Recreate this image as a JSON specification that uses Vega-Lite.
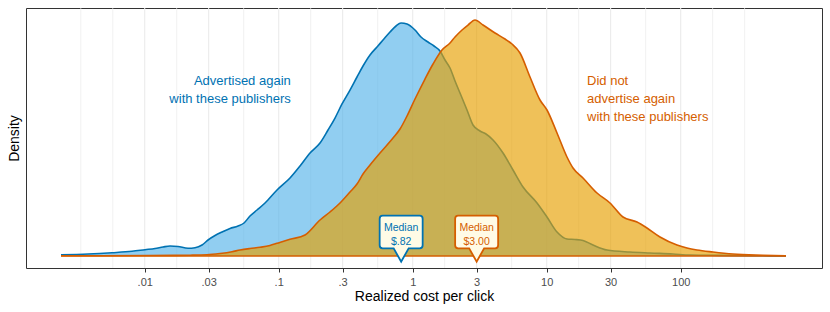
{
  "$schema": "https://vega.github.io/schema/vega-lite/v6.json",
  "width": 796,
  "height": 260,
  "autosize": {"type": "none"},
  "padding": {"left": 26, "top": 8, "right": 8, "bottom": 44},
  "background": "white",
  "config": {
    "font": "Liberation Sans",
    "view": {"stroke": "#333333", "strokeWidth": 1},
    "axisX": {"grid": false, "domain": false, "tickColor": "#333333", "tickSize": 4, "tickWidth": 1, "labelColor": "#4d4d4d", "labelFontSize": 11, "labelPadding": 4, "titleFontSize": 14, "titleFontWeight": "normal", "titleColor": "#000000", "titlePadding": 2, "labelFlush": false, "labelOverlap": false},
    "axisY": {"grid": false, "domain": false, "ticks": false, "labels": false, "titleFontSize": 14, "titleFontWeight": "normal", "titleColor": "#000000", "titlePadding": 5}
  },
  "datasets": {
    "grid": [
      {"cpc": 0.003334, "kind": "minor"}, {"cpc": 0.005774, "kind": "minor"}, {"cpc": 0.01, "kind": "major"}, {"cpc": 0.01732, "kind": "minor"},
      {"cpc": 0.03, "kind": "major"}, {"cpc": 0.05477, "kind": "minor"}, {"cpc": 0.1, "kind": "major"}, {"cpc": 0.1732, "kind": "minor"},
      {"cpc": 0.3, "kind": "major"}, {"cpc": 0.5477, "kind": "minor"}, {"cpc": 1, "kind": "major"}, {"cpc": 1.732, "kind": "minor"},
      {"cpc": 3, "kind": "major"}, {"cpc": 5.477, "kind": "minor"}, {"cpc": 10, "kind": "major"}, {"cpc": 17.32, "kind": "minor"},
      {"cpc": 30, "kind": "major"}, {"cpc": 54.77, "kind": "minor"}, {"cpc": 100, "kind": "major"}, {"cpc": 173.2, "kind": "minor"},
      {"cpc": 300, "kind": "minor"}
    ],
    "curves": [
      {"group": "again", "cpc": 0.002373, "density": 0.004},
      {"group": "again", "cpc": 0.003774, "density": 0.0067},
      {"group": "again", "cpc": 0.005702, "density": 0.011},
      {"group": "again", "cpc": 0.008036, "density": 0.0157},
      {"group": "again", "cpc": 0.01005, "density": 0.021},
      {"group": "again", "cpc": 0.01194, "density": 0.025},
      {"group": "again", "cpc": 0.0137, "density": 0.03},
      {"group": "again", "cpc": 0.01545, "density": 0.0333},
      {"group": "again", "cpc": 0.01772, "density": 0.0317},
      {"group": "again", "cpc": 0.02104, "density": 0.026},
      {"group": "again", "cpc": 0.02373, "density": 0.0277},
      {"group": "again", "cpc": 0.02677, "density": 0.0367},
      {"group": "again", "cpc": 0.02968, "density": 0.0533},
      {"group": "again", "cpc": 0.03347, "density": 0.0683},
      {"group": "again", "cpc": 0.03774, "density": 0.08},
      {"group": "again", "cpc": 0.04331, "density": 0.0917},
      {"group": "again", "cpc": 0.0497, "density": 0.1},
      {"group": "again", "cpc": 0.05508, "density": 0.11},
      {"group": "again", "cpc": 0.06106, "density": 0.1333},
      {"group": "again", "cpc": 0.06887, "density": 0.1533},
      {"group": "again", "cpc": 0.07902, "density": 0.1767},
      {"group": "again", "cpc": 0.09712, "density": 0.22},
      {"group": "again", "cpc": 0.1214, "density": 0.26},
      {"group": "again", "cpc": 0.1442, "density": 0.3},
      {"group": "again", "cpc": 0.1713, "density": 0.3433},
      {"group": "again", "cpc": 0.2033, "density": 0.3767},
      {"group": "again", "cpc": 0.2333, "density": 0.42},
      {"group": "again", "cpc": 0.2631, "density": 0.46},
      {"group": "again", "cpc": 0.2968, "density": 0.5067},
      {"group": "again", "cpc": 0.3404, "density": 0.5533},
      {"group": "again", "cpc": 0.3839, "density": 0.5967},
      {"group": "again", "cpc": 0.4257, "density": 0.6333},
      {"group": "again", "cpc": 0.4801, "density": 0.67},
      {"group": "again", "cpc": 0.5415, "density": 0.6967},
      {"group": "again", "cpc": 0.6005, "density": 0.72},
      {"group": "again", "cpc": 0.677, "density": 0.7467},
      {"group": "again", "cpc": 0.7507, "density": 0.7667},
      {"group": "again", "cpc": 0.8179, "density": 0.7767},
      {"group": "again", "cpc": 0.9067, "density": 0.7733},
      {"group": "again", "cpc": 1.04, "density": 0.7533},
      {"group": "again", "cpc": 1.153, "density": 0.73},
      {"group": "again", "cpc": 1.3, "density": 0.7133},
      {"group": "again", "cpc": 1.442, "density": 0.7},
      {"group": "again", "cpc": 1.598, "density": 0.6833},
      {"group": "again", "cpc": 1.742, "density": 0.6533},
      {"group": "again", "cpc": 1.898, "density": 0.6267},
      {"group": "again", "cpc": 2.069, "density": 0.5833},
      {"group": "again", "cpc": 2.254, "density": 0.5433},
      {"group": "again", "cpc": 2.542, "density": 0.4867},
      {"group": "again", "cpc": 2.818, "density": 0.4367},
      {"group": "again", "cpc": 3.178, "density": 0.4167},
      {"group": "again", "cpc": 3.524, "density": 0.4067},
      {"group": "again", "cpc": 3.975, "density": 0.3867},
      {"group": "again", "cpc": 4.72, "density": 0.3433},
      {"group": "again", "cpc": 5.604, "density": 0.2867},
      {"group": "again", "cpc": 6.656, "density": 0.23},
      {"group": "again", "cpc": 8.465, "density": 0.1767},
      {"group": "again", "cpc": 10.05, "density": 0.13},
      {"group": "again", "cpc": 11.94, "density": 0.08},
      {"group": "again", "cpc": 14.17, "density": 0.0567},
      {"group": "again", "cpc": 16.26, "density": 0.055},
      {"group": "again", "cpc": 18.66, "density": 0.0517},
      {"group": "again", "cpc": 22.16, "density": 0.0367},
      {"group": "again", "cpc": 28.18, "density": 0.02},
      {"group": "again", "cpc": 41.83, "density": 0.0133},
      {"group": "again", "cpc": 59.01, "density": 0.01},
      {"group": "again", "cpc": 87.6, "density": 0.0067},
      {"group": "again", "cpc": 117.3, "density": 0.0033},
      {"group": "again", "cpc": 196.6, "density": 0.002},
      {"group": "again", "cpc": 329.1, "density": 0.001},
      {"group": "again", "cpc": 610.8, "density": 0.0003},
      {"group": "not", "cpc": 0.002373, "density": 0.001},
      {"group": "not", "cpc": 0.004638, "density": 0.001},
      {"group": "not", "cpc": 0.01095, "density": 0.0017},
      {"group": "not", "cpc": 0.02178, "density": 0.0027},
      {"group": "not", "cpc": 0.02917, "density": 0.004},
      {"group": "not", "cpc": 0.03647, "density": 0.0083},
      {"group": "not", "cpc": 0.04482, "density": 0.0143},
      {"group": "not", "cpc": 0.05143, "density": 0.02},
      {"group": "not", "cpc": 0.06106, "density": 0.025},
      {"group": "not", "cpc": 0.07253, "density": 0.029},
      {"group": "not", "cpc": 0.0861, "density": 0.035},
      {"group": "not", "cpc": 0.09712, "density": 0.0423},
      {"group": "not", "cpc": 0.1214, "density": 0.0557},
      {"group": "not", "cpc": 0.1571, "density": 0.07},
      {"group": "not", "cpc": 0.2033, "density": 0.12},
      {"group": "not", "cpc": 0.2415, "density": 0.1467},
      {"group": "not", "cpc": 0.2868, "density": 0.1767},
      {"group": "not", "cpc": 0.3404, "density": 0.2133},
      {"group": "not", "cpc": 0.3839, "density": 0.24},
      {"group": "not", "cpc": 0.4257, "density": 0.2733},
      {"group": "not", "cpc": 0.4801, "density": 0.3033},
      {"group": "not", "cpc": 0.5702, "density": 0.3433},
      {"group": "not", "cpc": 0.7129, "density": 0.3933},
      {"group": "not", "cpc": 0.8042, "density": 0.4233},
      {"group": "not", "cpc": 0.9067, "density": 0.4667},
      {"group": "not", "cpc": 1.04, "density": 0.5233},
      {"group": "not", "cpc": 1.235, "density": 0.59},
      {"group": "not", "cpc": 1.418, "density": 0.64},
      {"group": "not", "cpc": 1.654, "density": 0.6867},
      {"group": "not", "cpc": 1.898, "density": 0.71},
      {"group": "not", "cpc": 2.069, "density": 0.73},
      {"group": "not", "cpc": 2.334, "density": 0.7533},
      {"group": "not", "cpc": 2.586, "density": 0.77},
      {"group": "not", "cpc": 2.917, "density": 0.7867},
      {"group": "not", "cpc": 3.347, "density": 0.77},
      {"group": "not", "cpc": 4.114, "density": 0.7433},
      {"group": "not", "cpc": 4.885, "density": 0.7233},
      {"group": "not", "cpc": 5.508, "density": 0.7067},
      {"group": "not", "cpc": 6.32, "density": 0.6767},
      {"group": "not", "cpc": 7.506, "density": 0.5967},
      {"group": "not", "cpc": 8.913, "density": 0.52},
      {"group": "not", "cpc": 10.05, "density": 0.4867},
      {"group": "not", "cpc": 11.94, "density": 0.41},
      {"group": "not", "cpc": 14.17, "density": 0.33},
      {"group": "not", "cpc": 15.72, "density": 0.2933},
      {"group": "not", "cpc": 18.66, "density": 0.26},
      {"group": "not", "cpc": 23.74, "density": 0.21},
      {"group": "not", "cpc": 29.68, "density": 0.1767},
      {"group": "not", "cpc": 37.11, "density": 0.13},
      {"group": "not", "cpc": 47.2, "density": 0.1133},
      {"group": "not", "cpc": 56.04, "density": 0.0933},
      {"group": "not", "cpc": 70.07, "density": 0.0633},
      {"group": "not", "cpc": 93.85, "density": 0.0367},
      {"group": "not", "cpc": 111.4, "density": 0.0267},
      {"group": "not", "cpc": 132.3, "density": 0.02},
      {"group": "not", "cpc": 174.2, "density": 0.0133},
      {"group": "not", "cpc": 245.7, "density": 0.0067},
      {"group": "not", "cpc": 411.4, "density": 0.0027},
      {"group": "not", "cpc": 610.8, "density": 0.0007}
    ],
    "medians": [
      {"group": "again", "cpc": 0.82, "label": "Median\n$.82"},
      {"group": "not", "cpc": 3.0, "label": "Median\n$3.00"}
    ],
    "notes": [
      {"group": "again", "cpc": 0.123, "density": 0.57, "label": "Advertised again\nwith these publishers"},
      {"group": "not", "cpc": 20, "density": 0.57, "label": "Did not\nadvertise again\nwith these publishers"}
    ]
  },
  "layer": [
    {
      "data": {"name": "grid"},
      "mark": {"type": "rule", "color": "#ebebeb"},
      "encoding": {
        "x": {"field": "cpc", "type": "quantitative", "title": "Realized cost per click",
              "scale": {"type": "log", "domain": [0.0013, 1134], "nice": false},
              "axis": {"values": [0.01, 0.03, 0.1, 0.3, 1, 3, 10, 30, 100], "format": "~g", "labelExpr": "datum.value < 1 ? substring(datum.label, 1) : datum.label"}},
        "strokeWidth": {"field": "kind", "type": "nominal", "scale": {"domain": ["major", "minor"], "range": [1.1, 0.7]}, "legend": null}
      }
    },
    {
      "data": {"name": "curves"},
      "transform": [{"filter": "datum.group === 'again'"}],
      "mark": {"type": "area", "color": "#56B4E9", "opacity": 0.65, "interpolate": "monotone"},
      "encoding": {
        "x": {"field": "cpc", "type": "quantitative", "title": "Realized cost per click", "scale": {"type": "log", "domain": [0.0013, 1134], "nice": false}},
        "y": {"field": "density", "type": "quantitative", "title": "Density", "scale": {"domain": [-0.04, 0.8267], "nice": false, "zero": false}}
      }
    },
    {
      "data": {"name": "curves"},
      "transform": [{"filter": "datum.group === 'again'"}],
      "mark": {"type": "line", "color": "#0072B2", "strokeWidth": 1.6, "interpolate": "monotone"},
      "encoding": {
        "x": {"field": "cpc", "type": "quantitative", "title": "Realized cost per click", "scale": {"type": "log", "domain": [0.0013, 1134], "nice": false}},
        "y": {"field": "density", "type": "quantitative", "title": "Density", "scale": {"domain": [-0.04, 0.8267], "nice": false, "zero": false}}
      }
    },
    {
      "data": {"name": "curves"},
      "transform": [{"filter": "datum.group === 'not'"}],
      "mark": {"type": "area", "color": "#E69F00", "opacity": 0.65, "interpolate": "monotone"},
      "encoding": {
        "x": {"field": "cpc", "type": "quantitative", "title": "Realized cost per click", "scale": {"type": "log", "domain": [0.0013, 1134], "nice": false}},
        "y": {"field": "density", "type": "quantitative", "title": "Density", "scale": {"domain": [-0.04, 0.8267], "nice": false, "zero": false}}
      }
    },
    {
      "data": {"name": "curves"},
      "transform": [{"filter": "datum.group === 'not'"}],
      "mark": {"type": "line", "color": "#D55E00", "strokeWidth": 1.6, "interpolate": "monotone"},
      "encoding": {
        "x": {"field": "cpc", "type": "quantitative", "title": "Realized cost per click", "scale": {"type": "log", "domain": [0.0013, 1134], "nice": false}},
        "y": {"field": "density", "type": "quantitative", "title": "Density", "scale": {"domain": [-0.04, 0.8267], "nice": false, "zero": false}}
      }
    },
    {
      "data": {"name": "curves"},
      "transform": [{"filter": "datum.group === 'not'"}],
      "mark": {"type": "rule", "color": "#D55E00", "strokeWidth": 1.6},
      "encoding": {
        "x": {"aggregate": "min", "field": "cpc", "type": "quantitative", "title": "Realized cost per click", "scale": {"type": "log", "domain": [0.0013, 1134], "nice": false}},
        "x2": {"aggregate": "max", "field": "cpc"},
        "y": {"datum": 0, "type": "quantitative", "title": "Density", "scale": {"domain": [-0.04, 0.8267], "nice": false, "zero": false}}
      }
    },
    {
      "data": {"name": "medians"},
      "mark": {"type": "point", "shape": "M-18.5,-40.3 L18.5,-40.3 Q21.5,-40.3 21.5,-37.3 L21.5,-10.7 Q21.5,-7.7 18.5,-7.7 L7.5,-7.7 L0,5.7 L-7.5,-7.7 L-18.5,-7.7 Q-21.5,-7.7 -21.5,-10.7 L-21.5,-37.3 Q-21.5,-40.3 -18.5,-40.3 Z", "size": 4, "filled": true, "fill": "#FFFBE6", "strokeWidth": 1.8, "opacity": 1},
      "encoding": {
        "x": {"field": "cpc", "type": "quantitative", "title": "Realized cost per click", "scale": {"type": "log", "domain": [0.0013, 1134], "nice": false}},
        "y": {"datum": 0, "type": "quantitative", "title": "Density", "scale": {"domain": [-0.04, 0.8267], "nice": false, "zero": false}},
        "stroke": {"field": "group", "type": "nominal", "scale": {"domain": ["again", "not"], "range": ["#0072B2", "#D55E00"]}, "legend": null}
      }
    },
    {
      "data": {"name": "medians"},
      "mark": {"type": "text", "lineBreak": "\n", "fontSize": 10.5, "lineHeight": 14, "dy": -25.5, "baseline": "alphabetic", "align": "center"},
      "encoding": {
        "x": {"field": "cpc", "type": "quantitative", "title": "Realized cost per click", "scale": {"type": "log", "domain": [0.0013, 1134], "nice": false}},
        "y": {"datum": 0, "type": "quantitative", "title": "Density", "scale": {"domain": [-0.04, 0.8267], "nice": false, "zero": false}},
        "text": {"field": "label", "type": "nominal"},
        "color": {"field": "group", "type": "nominal", "scale": {"domain": ["again", "not"], "range": ["#0072B2", "#D55E00"]}, "legend": null}
      }
    },
    {
      "data": {"name": "notes"},
      "transform": [{"filter": "datum.group === 'again'"}],
      "mark": {"type": "text", "lineBreak": "\n", "fontSize": 13, "lineHeight": 18, "baseline": "alphabetic", "align": "right", "color": "#0072B2"},
      "encoding": {
        "x": {"field": "cpc", "type": "quantitative", "title": "Realized cost per click", "scale": {"type": "log", "domain": [0.0013, 1134], "nice": false}},
        "y": {"field": "density", "type": "quantitative", "title": "Density", "scale": {"domain": [-0.04, 0.8267], "nice": false, "zero": false}},
        "text": {"field": "label", "type": "nominal"}
      }
    },
    {
      "data": {"name": "notes"},
      "transform": [{"filter": "datum.group === 'not'"}],
      "mark": {"type": "text", "lineBreak": "\n", "fontSize": 13, "lineHeight": 18, "baseline": "alphabetic", "align": "left", "color": "#D55E00"},
      "encoding": {
        "x": {"field": "cpc", "type": "quantitative", "title": "Realized cost per click", "scale": {"type": "log", "domain": [0.0013, 1134], "nice": false}},
        "y": {"field": "density", "type": "quantitative", "title": "Density", "scale": {"domain": [-0.04, 0.8267], "nice": false, "zero": false}},
        "text": {"field": "label", "type": "nominal"}
      }
    }
  ]
}
